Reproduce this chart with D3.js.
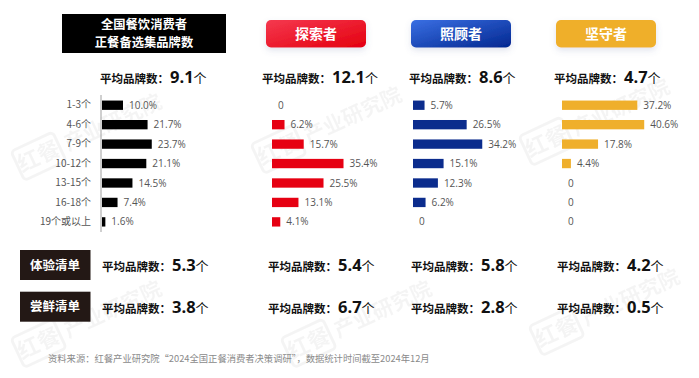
<!DOCTYPE html>
<html><head><meta charset="utf-8">
<script src="https://cdn.jsdelivr.net/npm/d3@7"></script>
<style>
html,body{margin:0;padding:0;background:#fff;}
svg{display:block;font-family:"Noto Sans CJK SC","Noto Sans",sans-serif;}
</style></head>
<body>
<svg id="c" width="699" height="378"></svg>
<script>
const categories = ["1-3个","4-6个","7-9个","10-12个","13-15个","16-18个","19个或以上"];
const groups = ["全国餐饮消费者正餐备选集品牌数","探索者","照顾者","坚守者"];
const allValues = [10.0,21.7,23.7,21.1,14.5,7.4,1.6];
const explorerValues = [0,6.2,15.7,35.4,25.5,13.1,4.1];
const carerValues = [5.7,26.5,34.2,15.1,12.3,6.2,0];
const keeperValues = [37.2,40.6,17.8,4.4,0,0,0];
const avgTotal = ["9.1","12.1","8.6","4.7"];
const listNames = ["体验清单","尝鲜清单"];
const avgExperience = ["5.3","5.4","5.8","4.2"];
const avgTrial = ["3.8","6.7","2.8","0.5"];
const footnote = "资料来源：红餐产业研究院“2024全国正餐消费者决策调研”，数据统计时间截至2024年12月";

const series = [allValues, explorerValues, carerValues, keeperValues];
const colors = ["#000000","#e60012","#0b2c8d","#efaf2c"];
const barStarts = [102, 272, 413, 562];
const avgX = [100, 262, 409, 554];
const rowAvgX = [102, 268, 411, 557];

const svg = d3.select("#c");
const defs = svg.append("defs");

const gR = defs.append("linearGradient").attr("id","gR").attr("x1","0").attr("y1","0").attr("x2","1").attr("y2","1");
gR.append("stop").attr("offset","0").attr("stop-color","#f5394f");
gR.append("stop").attr("offset","1").attr("stop-color","#e4000f");
const gB = defs.append("linearGradient").attr("id","gB").attr("x1","0").attr("y1","0").attr("x2","1").attr("y2","1");
gB.append("stop").attr("offset","0").attr("stop-color","#3a6fe3");
gB.append("stop").attr("offset","1").attr("stop-color","#022790");
const f = defs.append("filter").attr("id","sh").attr("x","-30%").attr("y","-50%").attr("width","160%").attr("height","220%");
f.append("feDropShadow").attr("dx",0).attr("dy",3).attr("stdDeviation",3).attr("flood-color","#6070a0").attr("flood-opacity",0.18);

// watermarks
const wm = [[22,175],[262,168],[530,160],[22,362],[292,362],[540,350]];
wm.forEach(([x,y])=>{
  const g = svg.append("g").attr("transform",`translate(${x},${y}) rotate(-25)`).attr("opacity",0.04);
  g.append("rect").attr("x",0).attr("y",-26).attr("width",46).attr("height",32).attr("rx",4).attr("fill","none").attr("stroke","#000").attr("stroke-width",3);
  g.append("text").attr("x",23).attr("y",-2).attr("text-anchor","middle").attr("font-size",22).attr("font-weight",700).attr("fill","#000").text("红餐");
  g.append("text").attr("x",52).attr("y",-2).attr("font-size",21).attr("font-weight",700).attr("fill","#000").text("产业研究院");
});

// header boxes
svg.append("rect").attr("x",62).attr("y",14).attr("width",164).attr("height",39).attr("fill","#000");
svg.append("text").attr("x",144).attr("y",29).attr("text-anchor","middle").attr("fill","#fff").attr("font-size",12.3).attr("font-weight",700).text("全国餐饮消费者");
svg.append("text").attr("x",144).attr("y",47.3).attr("text-anchor","middle").attr("fill","#fff").attr("font-size",12.3).attr("font-weight",700).text("正餐备选集品牌数");

const btns = [[266,"url(#gR)"],[411,"url(#gB)"],[556,"#efaf2c"]];
btns.forEach(([x,fill],i)=>{
  svg.append("rect").attr("x",x).attr("y",20).attr("width",100).attr("height",27.5).attr("rx",5).attr("fill",fill).attr("filter","url(#sh)");
  svg.append("text").attr("x",x+50).attr("y",39).attr("text-anchor","middle").attr("fill","#fff").attr("font-size",14).attr("font-weight",700).text(groups[i+1]);
});

function avgText(x, y, v){
  const t = svg.append("text").attr("x",x).attr("y",y).attr("fill","#111").attr("font-weight",700);
  t.append("tspan").attr("font-size",11.5).text("平均品牌数：");
  t.append("tspan").attr("font-size",16.5).attr("font-family","'Open Sans','Noto Sans',sans-serif").attr("dx",1).text(v);
  t.append("tspan").attr("font-size",13).attr("font-weight",400).text("个");
}
avgTotal.forEach((v,i)=>avgText(avgX[i],83,v));

const y = d3.scaleBand().domain(categories).range([95.5,231.6]).paddingInner(0.52).paddingOuter(0.26);
const xScales = [
  d3.scaleLinear().domain([0,40]).range([0,84]),
  d3.scaleLinear().domain([0,40]).range([0,80.8]),
  d3.scaleLinear().domain([0,40]).range([0,81]),
  d3.scaleLinear().domain([0,40]).range([0,81])
];

const ax = svg.append("g").attr("transform",`translate(101,0)`)
  .call(d3.axisLeft(y).tickSize(0).tickPadding(10));
ax.select(".domain").attr("stroke","#a0a0a0").attr("d","M0,95V232");
ax.selectAll("text").attr("font-size",10).attr("fill","#555").attr("font-family","'Noto Sans CJK SC',sans-serif");

series.forEach((vals,si)=>{
  const g = svg.append("g").attr("transform",`translate(${barStarts[si]},0)`);
  const xs = xScales[si];
  const d0 = vals.map((v,i)=>({v,c:categories[i]}));
  g.selectAll("rect").data(d0).join("rect")
    .attr("x",0).attr("y",d=>y(d.c)).attr("height",y.bandwidth()).attr("width",d=>xs(d.v))
    .attr("fill",colors[si]);
  g.selectAll("text").data(d0).join("text")
    .attr("x",d=>xs(d.v)+6).attr("y",d=>y(d.c)+y.bandwidth()/2).attr("dy","0.36em")
    .attr("font-size",10).attr("fill","#555")
    .attr("font-family","'Open Sans','Noto Sans',sans-serif")
    .text(d=>d.v===0?"0":d3.format(".1f")(d.v)+"%");
});

const rowY = [265, 306.7];
[avgExperience, avgTrial].forEach((arr,ri)=>{
  svg.append("rect").attr("x",20).attr("y",rowY[ri]-15).attr("width",70.5).attr("height",30).attr("fill","#231815");
  svg.append("text").attr("x",55).attr("y",rowY[ri]+4.5).attr("text-anchor","middle").attr("fill","#fff").attr("font-size",12.5).attr("font-weight",700).text(listNames[ri]);
  arr.forEach((v,i)=>avgText(rowAvgX[i],rowY[ri]+6,v));
});

svg.append("text").attr("x",48).attr("y",362).attr("font-size",9.3).attr("fill","#8a8a8a").text(footnote);
</script>
</body></html>
